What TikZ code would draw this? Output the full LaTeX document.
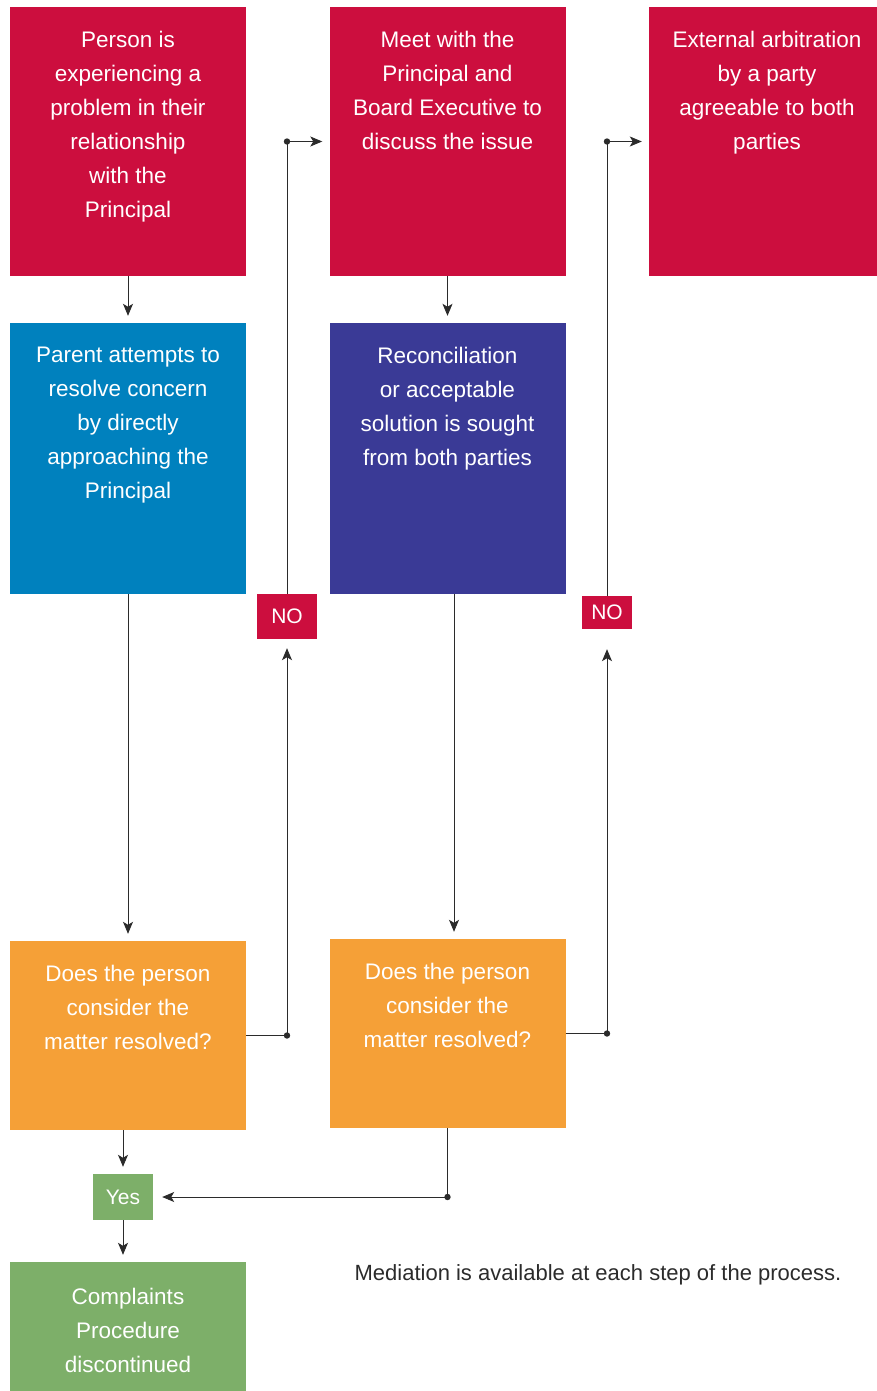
\documentclass[tikz,border=0pt]{standalone}
\usepackage{fontspec}
\setmainfont{Liberation Sans}
\usetikzlibrary{arrows.meta}

\definecolor{stepred}{HTML}{CC0E3E}
\definecolor{stepblue}{HTML}{0081BE}
\definecolor{stepnavy}{HTML}{3A3A96}
\definecolor{steporange}{HTML}{F5A037}
\definecolor{stepgreen}{HTML}{7DAF69}
\definecolor{wiregray}{HTML}{2B2B2B}

\tikzset{
	stepbox/.style={fill=#1, minimum width=236, minimum height=269},
	boxtext/.style={anchor=north, text=white, align=center, font=\fontsize{22.5}{34}\selectfont},
	tagbox/.style={fill=#1, text=white, font=\fontsize{21}{24}\selectfont},
	flow/.style={draw=wiregray, line width=0.9pt, -{Stealth[length=12pt,width=10pt,inset=3pt]}, shorten >=7pt},
	joint/.style={fill=wiregray}
}

\begin{document}
\begin{tikzpicture}[x=1pt, y=-1pt, every node/.style={inner sep=0}]
	\useasboundingbox (0,0) rectangle (876,1391);
	% first row
	\node[stepbox=stepred] (person) at (128,141.5) {};
	\node[boxtext] (person-t) at ([yshift=-24]person.north) {Person is\\experiencing a\\problem in their\\relationship\\with the\\Principal};
	\node[stepbox=stepred] (meet) at (447.5,141.5) {};
	\node[boxtext] (meet-t) at ([yshift=-24]meet.north) {Meet with the\\Principal and\\Board Executive to\\discuss the issue};
	\node[stepbox=stepred] (arbit) at (767,141.5) {};
	\node[boxtext] (arbit-t) at ([yshift=-24]arbit.north) {External arbitration\\by a party\\agreeable to both\\parties};
	% second row
	\node[stepbox=stepblue, minimum height=271] (parent) at (128,458.5) {};
	\node[boxtext] (parent-t) at ([yshift=-24]parent.north) {Parent attempts to\\resolve concern\\by directly\\approaching the\\Principal};
	\node[stepbox=stepnavy, minimum height=271] (recon) at (447.5,458.5) {};
	\node[boxtext] (recon-t) at ([yshift=-24]recon.north) {Reconciliation\\or acceptable\\solution is sought\\from both parties};
	% questions
	\node[stepbox=steporange, minimum height=189] (ask1) at (128,1035.5) {};
	\node[boxtext] (ask1-t) at ([yshift=-24]ask1.north) {Does the person\\consider the\\matter resolved?};
	\node[stepbox=steporange, minimum height=189] (ask2) at (447.5,1033.5) {};
	\node[boxtext] (ask2-t) at ([yshift=-24]ask2.north) {Does the person\\consider the\\matter resolved?};
	\node[tagbox=stepred, minimum width=60, minimum height=45] (no1) at (287,616.5) {NO};
	\node[tagbox=stepred, minimum width=50, minimum height=33] (no2) at (607,612.5) {NO};
	\node[tagbox=stepgreen, minimum width=60, minimum height=46] (yes) at (123,1197) {Yes};
	\node[stepbox=stepgreen, minimum height=189] (stop) at (128,1356.5) {};
	\node[boxtext] (stop-t) at ([yshift=-26]stop.north) {Complaints\\Procedure\\discontinued};
	\node[text=wiregray, font=\fontsize{22}{26}\selectfont] (mediation) at (598,1275) {Mediation is available at each step of the process.};

	% connectors
	\draw[flow] (person) -- (parent);
	\draw[flow] (meet) -- (recon);
	\draw[flow] (parent) -- (ask1);
	\draw[flow] ([xshift=6.5]recon.south) -- ([xshift=6.5]ask2.north);
	\coordinate (j1) at (ask1.east -| no1.south);
	\coordinate (j2) at (ask2.east -| no2.south);
	\draw[flow, shorten >=9pt] (ask1.east) -- (j1) -- (no1.south);
	\draw[flow, shorten >=20pt] (ask2.east) -- (j2) -- (no2.south);
	\draw[flow] (no1) |- (meet) coordinate[pos=0.5] (k1);
	\draw[flow] (no2) |- (arbit) coordinate[pos=0.5] (k2);
	\draw[flow] (ask1.south -| yes) -- (yes);
	\draw[flow] (yes) -- (stop.north -| yes);
	\draw[flow, shorten >=9pt] (ask2) |- (yes) coordinate[pos=0.5] (k3);
	\foreach \j in {j1,j2,k1,k2,k3}
		\fill[joint] (\j) circle (3.2);
\end{tikzpicture}
\end{document}
